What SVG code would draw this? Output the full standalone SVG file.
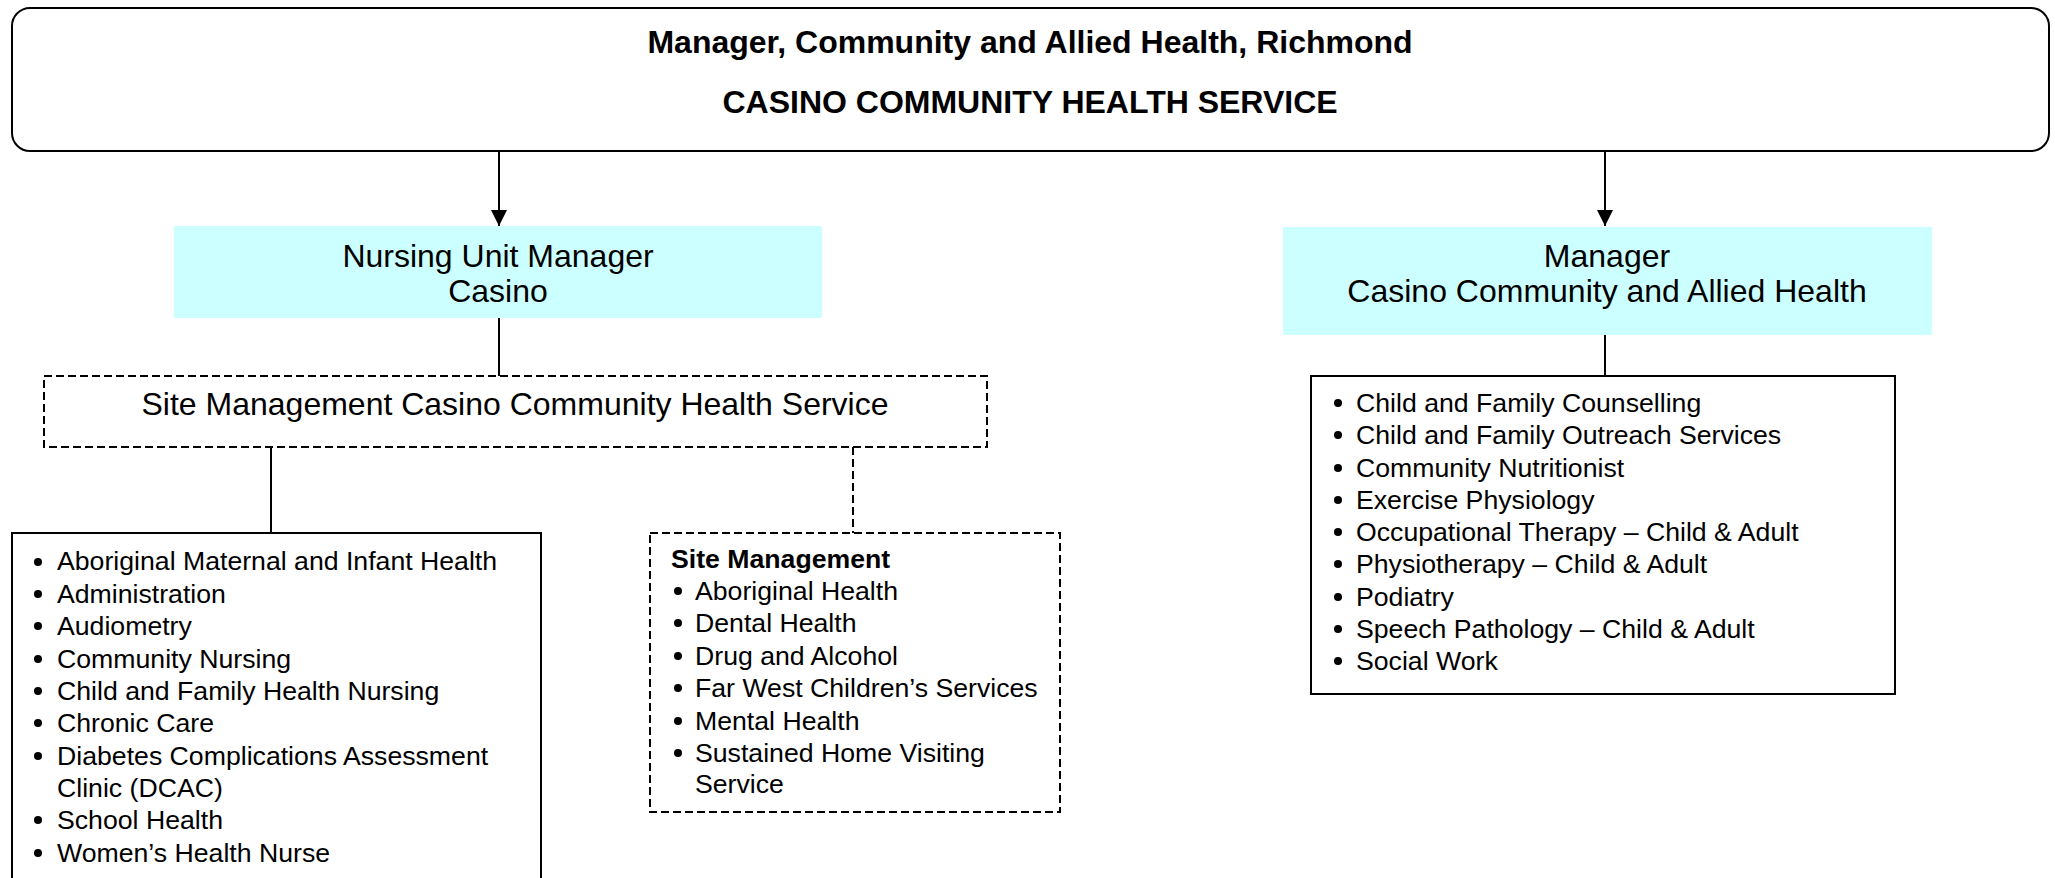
<svg xmlns="http://www.w3.org/2000/svg" width="2055" height="878" viewBox="0 0 2055 878">
<style>
  text { font-family: "Liberation Sans", Arial, sans-serif; fill: #000; }
  .title { font-size: 32px; font-weight: bold; text-anchor: middle; }
  .head { font-size: 32px; text-anchor: middle; }
  .item { font-size: 26.67px; }
  .bold { font-weight: bold; }
  .solid { fill: #fff; stroke: #000; stroke-width: 2; }
  .dash { fill: #fff; stroke: #000; stroke-width: 2; stroke-dasharray: 8 4; }
  .cyan { fill: #CCFFFF; stroke: none; }
  .conn { stroke: #000; stroke-width: 2; fill: none; }
  .conn-dash { stroke: #000; stroke-width: 2; fill: none; stroke-dasharray: 8 4; }
  .bullet { fill: #000; }
</style>
<defs>
  <marker id="arrow" markerUnits="userSpaceOnUse" markerWidth="16" markerHeight="16" refX="16" refY="8" orient="auto">
    <path d="M0,0 L16,8 L0,16 Z" fill="#000"/>
  </marker>
</defs>

<g id="connectors">
  <line class="conn" x1="499" y1="151" x2="499" y2="226" marker-end="url(#arrow)"/>
  <line class="conn" x1="1605" y1="151" x2="1605" y2="226" marker-end="url(#arrow)"/>
  <line class="conn" x1="499" y1="318" x2="499" y2="376"/>
  <line class="conn" x1="1605" y1="335" x2="1605" y2="376"/>
  <line class="conn" x1="271" y1="447" x2="271" y2="533"/>
  <line class="conn-dash" x1="853" y1="447" x2="853" y2="533"/>
</g>

<g id="top">
  <rect class="solid" x="12" y="8" width="2037" height="143" rx="18" ry="18"/>
  <text class="title" x="1030" y="53">Manager, Community and Allied Health, Richmond</text>
  <text class="title" x="1030" y="113">CASINO COMMUNITY HEALTH SERVICE</text>
</g>

<g id="num">
  <rect class="cyan" x="174" y="226" width="648" height="92"/>
  <text class="head" x="498" y="267">Nursing Unit Manager</text>
  <text class="head" x="498" y="302">Casino</text>
</g>

<g id="manager">
  <rect class="cyan" x="1283" y="227" width="649" height="108"/>
  <text class="head" x="1607" y="267">Manager</text>
  <text class="head" x="1607" y="302">Casino Community and Allied Health</text>
</g>

<g id="site">
  <rect class="dash" x="44" y="376" width="943" height="71"/>
  <text class="head" x="515" y="415">Site Management Casino Community Health Service</text>
</g>

<g id="left-list">
  <rect class="solid" x="12" y="533" width="529" height="370"/>
  <g class="bullet">
    <circle cx="38" cy="562" r="4"/>
    <circle cx="38" cy="594" r="4"/>
    <circle cx="38" cy="626" r="4"/>
    <circle cx="38" cy="659" r="4"/>
    <circle cx="38" cy="691" r="4"/>
    <circle cx="38" cy="723" r="4"/>
    <circle cx="38" cy="756" r="4"/>
    <circle cx="38" cy="820" r="4"/>
    <circle cx="38" cy="853" r="4"/>
  </g>
  <text class="item" x="57" y="570">Aboriginal Maternal and Infant Health</text>
  <text class="item" x="57" y="603">Administration</text>
  <text class="item" x="57" y="635">Audiometry</text>
  <text class="item" x="57" y="668">Community Nursing</text>
  <text class="item" x="57" y="700">Child and Family Health Nursing</text>
  <text class="item" x="57" y="732">Chronic Care</text>
  <text class="item" x="57" y="765">Diabetes Complications Assessment</text>
  <text class="item" x="57" y="797">Clinic (DCAC)</text>
  <text class="item" x="57" y="829">School Health</text>
  <text class="item" x="57" y="862">Women’s Health Nurse</text>
</g>

<g id="site-list">
  <rect class="dash" x="650" y="533" width="410" height="279"/>
  <text class="item bold" x="671" y="568">Site Management</text>
  <g class="bullet">
    <circle cx="678" cy="591" r="4"/>
    <circle cx="678" cy="623" r="4"/>
    <circle cx="678" cy="656" r="4"/>
    <circle cx="678" cy="688" r="4"/>
    <circle cx="678" cy="721" r="4"/>
    <circle cx="678" cy="753" r="4"/>
  </g>
  <text class="item" x="695" y="600">Aboriginal Health</text>
  <text class="item" x="695" y="632">Dental Health</text>
  <text class="item" x="695" y="665">Drug and Alcohol</text>
  <text class="item" x="695" y="697">Far West Children’s Services</text>
  <text class="item" x="695" y="730">Mental Health</text>
  <text class="item" x="695" y="762">Sustained Home Visiting</text>
  <text class="item" x="695" y="793">Service</text>
</g>

<g id="right-list">
  <rect class="solid" x="1311" y="376" width="584" height="318"/>
  <g class="bullet">
    <circle cx="1338" cy="403" r="4"/>
    <circle cx="1338" cy="435" r="4"/>
    <circle cx="1338" cy="468" r="4"/>
    <circle cx="1338" cy="500" r="4"/>
    <circle cx="1338" cy="532" r="4"/>
    <circle cx="1338" cy="564" r="4"/>
    <circle cx="1338" cy="597" r="4"/>
    <circle cx="1338" cy="629" r="4"/>
    <circle cx="1338" cy="661" r="4"/>
  </g>
  <text class="item" x="1356" y="412">Child and Family Counselling</text>
  <text class="item" x="1356" y="444">Child and Family Outreach Services</text>
  <text class="item" x="1356" y="477">Community Nutritionist</text>
  <text class="item" x="1356" y="509">Exercise Physiology</text>
  <text class="item" x="1356" y="541">Occupational Therapy – Child &amp; Adult</text>
  <text class="item" x="1356" y="573">Physiotherapy – Child &amp; Adult</text>
  <text class="item" x="1356" y="606">Podiatry</text>
  <text class="item" x="1356" y="638">Speech Pathology – Child &amp; Adult</text>
  <text class="item" x="1356" y="670">Social Work</text>
</g>
</svg>
